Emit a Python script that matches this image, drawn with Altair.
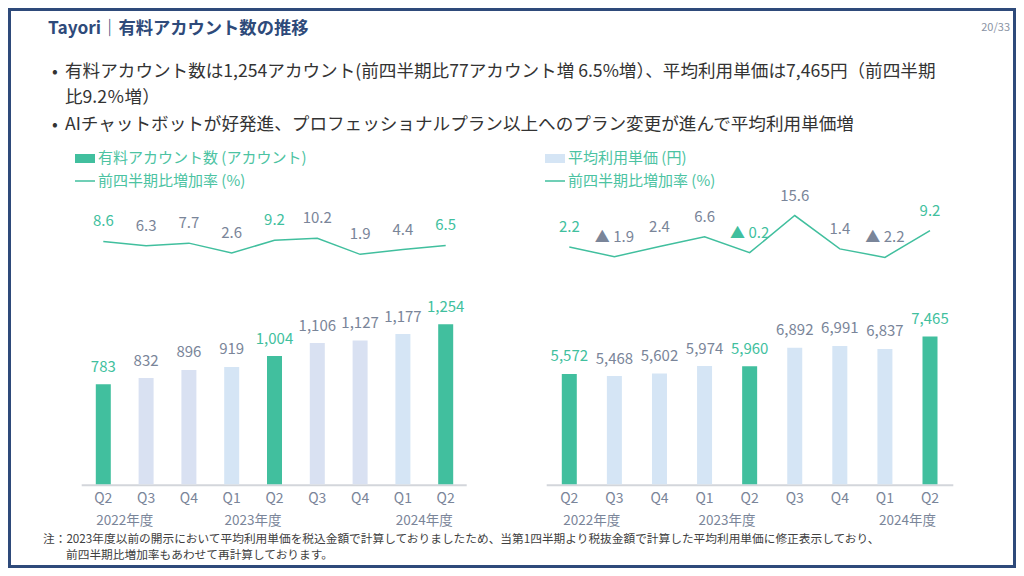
import altair as alt
import pandas as pd

# ---------------- data ----------------
quarters = ["Q2", "Q3", "Q4", "Q1", "Q2", "Q3", "Q4", "Q1", "Q2"]
fiscal_years = ["2022", "2022", "2022", "2023", "2023", "2023", "2023", "2024", "2024"]
accounts = [783, 832, 896, 919, 1004, 1106, 1127, 1177, 1254]
account_growth = [8.6, 6.3, 7.7, 2.6, 9.2, 10.2, 1.9, 4.4, 6.5]
unit_price = [5572, 5468, 5602, 5974, 5960, 6892, 6991, 6837, 7465]
price_growth = [2.2, -1.9, 2.4, 6.6, -0.2, 15.6, 1.4, -2.2, 9.2]
year_labels = ["2022年度", "2023年度", "2024年度"]
year_anchor_idx = [0, 3, 7]

title_text = "Tayori｜有料アカウント数の推移"
page_text = "20/33"
bullet_lines = [
    "有料アカウント数は1,254アカウント(前四半期比77アカウント増 6.5%増）、平均利用単価は7,465円（前四半期",
    "比9.2％増）",
    "AIチャットボットが好発進、プロフェッショナルプラン以上へのプラン変更が進んで平均利用単価増",
]
legend_left = ["有料アカウント数 (アカウント)", "前四半期比増加率 (%)"]
legend_right = ["平均利用単価 (円)", "前四半期比増加率 (%)"]
footnote_lines = [
    "注：2023年度以前の開示において平均利用単価を税込金額で計算しておりましたため、当第1四半期より税抜金額で計算した平均利用単価に修正表示しており、",
    "前四半期比増加率もあわせて再計算しております。",
]

# ---------------- styles ----------------
FONT = "Noto Sans CJK JP"
NAVY = "#2E4A7A"
GREEN = "#41BF9E"
GREEN_TXT = "#4CC3A2"
GREY = "#7A8599"
LAVENDER = "#D9E1F2"
LIGHTBLUE = "#D5E5F5"
AXIS = "#D3D6DB"
TEXT = "#333333"

keys = [f + q for f, q in zip(fiscal_years, quarters)]
df = pd.DataFrame({
    "key": keys,
    "q": quarters,
    "acc": accounts,
    "accg": account_growth,
    "price": unit_price,
    "priceg": price_growth,
})
df["hl"] = ["hl" if q == "Q2" else "n" for q in quarters]
df["kind_left"] = ["hl" if q == "Q2" else ("b" if q == "Q1" else "a") for q in quarters]
df["kind_right"] = ["hl" if q == "Q2" else "b" for q in quarters]

years_df = pd.DataFrame({"key": [keys[i] for i in year_anchor_idx], "label": year_labels})
one = pd.DataFrame({"d": [0]})

label_color = alt.Color("hl:N", scale=alt.Scale(domain=["hl", "n"], range=[GREEN, GREY]), legend=None)


def text_layer(txt, x, y, size, color, align="left", weight="normal", font=FONT):
    return alt.Chart(pd.DataFrame({"t": [txt]})).mark_text(
        align=align, baseline="middle", fontSize=size, color=color, font=font, fontWeight=weight
    ).encode(text="t:N", x=alt.value(x), y=alt.value(y))


def panel(xrange, val, growth, kind, kind_range, ydom, yrange, ldom, lrange, axis_x, half):
    X = alt.X("key:N", scale=alt.Scale(type="point", domain=keys, range=xrange, padding=0), axis=None)
    Yb = alt.Y(f"{val}:Q", scale=alt.Scale(domain=ydom, range=yrange, nice=False, zero=True), axis=None)
    Yl = alt.Y(f"{growth}:Q", scale=alt.Scale(domain=ldom, range=lrange, nice=False, zero=False), axis=None)
    base = alt.Chart(df)
    axis_line = alt.Chart(one).mark_rule(color=AXIS, strokeWidth=2).encode(
        x=alt.value(axis_x[0]), x2=alt.value(axis_x[1]), y=alt.value(yrange[0] + 1)
    )
    bars = base.mark_bar(size=15).encode(
        x=X, y=Yb,
        color=alt.Color(f"{kind}:N", scale=alt.Scale(domain=["hl", "a", "b"], range=kind_range), legend=None),
    )
    bar_labels = base.mark_text(dy=-17.5, fontSize=15, font=FONT, baseline="middle").encode(
        x=X, y=Yb, text=alt.Text(f"{val}:Q", format=","), color=label_color
    )
    line = base.mark_line(color=GREEN, strokeWidth=1.5).encode(x=X, y=Yl)
    line_labels = base.transform_calculate(
        lbl=f"datum.{growth} < 0 ? '▲ ' + format(-datum.{growth}, '.1f') : format(datum.{growth}, '.1f')"
    ).mark_text(dy=-20, fontSize=15, font=FONT, baseline="middle").encode(
        x=X, y=Yl, text="lbl:N", color=label_color
    )
    ticks = base.mark_text(fontSize=14, font=FONT, color=GREY, baseline="middle").encode(
        x=X, y=alt.value(490.5), text="q:N"
    )
    years = alt.Chart(years_df).mark_text(dx=half, fontSize=13.5, font=FONT, color=GREY, baseline="middle").encode(
        x=X, y=alt.value(512.5), text="label:N"
    )
    return [axis_line, bars, bar_labels, line, line_labels, ticks, years]


layers = []
# frame
layers.append(
    alt.Chart(one).mark_rect(fill="white", stroke=NAVY, strokeWidth=4).encode(
        x=alt.value(1), x2=alt.value(1007), y=alt.value(1), y2=alt.value(559)
    )
)
layers.append(text_layer(title_text, 40, 21, 17.3, NAVY, weight="bold"))
layers.append(text_layer(page_text, 1002, 20, 11, "#8A93A3", align="right"))
for yy in (64, 117):
    layers.append(text_layer("•", 44, yy, 17, TEXT))
for txt, yy in zip(bullet_lines, (64, 90, 117)):
    layers.append(text_layer(txt, 57, yy, 17.6, TEXT))

# legends
for x0, labels, sw in ((67, legend_left, GREEN), (537, legend_right, LIGHTBLUE)):
    layers.append(alt.Chart(one).mark_rect(color=sw).encode(
        x=alt.value(x0), x2=alt.value(x0 + 20), y=alt.value(146), y2=alt.value(155)))
    layers.append(alt.Chart(one).mark_rule(color=GREEN, strokeWidth=1.5).encode(
        x=alt.value(x0), x2=alt.value(x0 + 20), y=alt.value(173)))
    layers.append(text_layer(labels[0], x0 + 23, 150, 15, GREEN_TXT))
    layers.append(text_layer(labels[1], x0 + 23, 173, 15, GREEN_TXT))

layers += panel([95.3, 437.7], "acc", "accg", "kind_left", [GREEN, LAVENDER, LIGHTBLUE],
                [0, 1254], [476.3, 316.2], [0, 10], [250, 230.7], [73.7, 458.7], 21.4)
layers += panel([561.3, 922], "price", "priceg", "kind_right", [GREEN, LIGHTBLUE, LIGHTBLUE],
                [0, 5000], [476.3, 377.3], [0, 10], [244.2, 220.7], [538.7, 945.3], 22.5)

layers.append(text_layer(footnote_lines[0], 35, 531, 11.7, "#404040"))
layers.append(text_layer(footnote_lines[1], 58, 547, 11.7, "#404040"))

chart = alt.layer(*layers).resolve_scale(
    x="independent", y="independent", color="independent"
).properties(
    width=1008, height=560, padding=0, autosize=alt.AutoSizeParams(type="none")
).configure_view(stroke="transparent")

chart.save("out.html", embed_options={"renderer": "svg", "actions": False})
